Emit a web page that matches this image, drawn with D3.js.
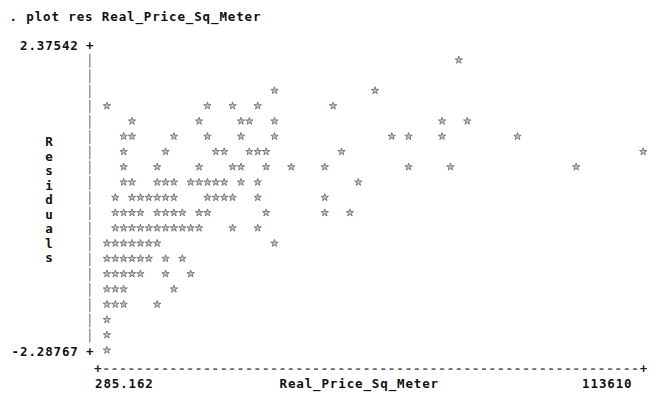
<!DOCTYPE html>
<html>
<head>
<meta charset="utf-8">
<script src="https://cdn.jsdelivr.net/npm/d3@7"></script>
<style>
  html, body { margin: 0; padding: 0; background: #fff; }
  svg { display: block; }
  text {
    font-family: 'DejaVu Sans Mono', monospace;
    font-weight: bold;
    font-size: 12.5px;
    letter-spacing: 0.87px;
    fill: #111;
  }
</style>
</head>
<body>
<svg id="chart" width="659" height="395"></svg>
<script>
// Command echo and axis titles
const command = ". plot res Real_Price_Sq_Meter";
const yTitle = "Residuals";
const xTitle = "Real_Price_Sq_Meter";

// Axis extents and their labels
const yExtent = [-2.28767, 2.37542];
const xExtent = [285.162, 113610];
const yTickLabels = ["2.37542", "-2.28767"];
const xTickLabels = ["285.162", "113610"];

// Real price per square meter (x) and regression residual (y), one entry per observation
const price = [
  74540,
  35810, 56720,
  612, 21390, 26990, 32010, 48250,
  5480, 19910, 28480, 30520, 35560, 71290, 76300,
  3950, 5710, 14320, 21660, 28740, 35600, 60610, 63890, 70980, 87210,
  3700, 12810, 23180, 25190, 30250, 32290, 33810, 49990, 113610,
  3890, 10780, 19640, 26730, 28830, 34050, 39120, 46460, 64170, 72760, 99580,
  3760, 5650, 11020, 12590, 14560, 17880, 19850, 21470, 23410, 24980, 28550, 32240, 53290,
  2140, 5530, 7450, 9060, 10990, 12620, 14380, 21600, 23250, 25140, 26780, 32090, 46250,
  1990, 3870, 5640, 7290, 10850, 12740, 14510, 16160, 19700, 21590, 33990, 46380, 51560,
  2100, 3780, 5560, 7410, 9190, 10870, 12720, 14400, 16280, 17930, 19820, 26900, 32210,
  540, 2010, 3870, 5620, 7330, 9180, 10960, 35750,
  430, 2090, 3800, 5670, 7400, 9110, 12760, 16170,
  690, 2120, 3760, 5540, 7440, 12620, 18050,
  520, 1980, 3900, 14500,
  760, 2030, 3850, 10850,
  380,
  610,
  285.162
];
const residual = [
  2.37542,
  1.902, 1.861,
  1.652, 1.618, 1.671, 1.624, 1.645,
  1.412, 1.377, 1.401, 1.366, 1.418, 1.384, 1.399,
  1.161, 1.132, 1.170, 1.139, 1.155, 1.128, 1.163, 1.141, 1.157, 1.136,
  0.921, 0.887, 0.914, 0.893, 0.908, 0.881, 0.917, 0.896, 0.911,
  0.671, 0.642, 0.668, 0.651, 0.639, 0.676, 0.648, 0.662, 0.645, 0.673, 0.654,
  0.428, 0.397, 0.419, 0.404, 0.431, 0.392, 0.415, 0.426, 0.401, 0.418, 0.395, 0.423, 0.409,
  0.181, 0.152, 0.174, 0.158, 0.183, 0.149, 0.171, 0.162, 0.187, 0.153, 0.169, 0.177, 0.156,
  -0.062, -0.091, -0.071, -0.097, -0.066, -0.084, -0.059, -0.093, -0.074, -0.088, -0.065, -0.081, -0.095,
  -0.311, -0.338, -0.317, -0.342, -0.309, -0.329, -0.336, -0.314, -0.327, -0.306, -0.341, -0.319, -0.333,
  -0.552, -0.581, -0.561, -0.588, -0.557, -0.574, -0.583, -0.563,
  -0.802, -0.829, -0.808, -0.821, -0.799, -0.833, -0.811, -0.824,
  -1.047, -1.072, -1.052, -1.079, -1.058, -1.066, -1.049,
  -1.292, -1.318, -1.301, -1.314,
  -1.539, -1.562, -1.547, -1.558,
  -1.781,
  -2.051,
  -2.28767
];

const svg = d3.select("#chart");
const CHAR_W = 8.4;

// Character-cell plot: values snap to a 65-column by 20-row grid
const colScale = d3.scaleLinear().domain(xExtent).range([0, 64]);
const rowScale = d3.scaleLinear().domain(yExtent).range([20, 1]);
const colX = d3.scaleLinear().domain([0, 64]).range([106.9, 643.2]);
const rowY = d3.scaleLinear().domain([0, 20]).range([44.8, 350.2]);
const baseline = r => rowY(r) + 5.5;

// Command line
svg.append("text").attr("x", 9.5).attr("y", 21).text(command);

// Y axis: "+" at the extremes, "|" on every row between
const axisX = 89.8;
svg.append("g").selectAll("line")
  .data(d3.range(1, 20))
  .join("line")
  .attr("x1", axisX).attr("x2", axisX)
  .attr("y1", r => rowY(r) - 6.2)
  .attr("y2", r => rowY(r) + 7.6)
  .attr("stroke", "#8d8f96")
  .attr("stroke-width", 1.4);

[yExtent[1], yExtent[0]].forEach((v, i) => {
  const r = Math.round(rowScale(v)) === 1 && i === 0 ? 0 : 20;
  const label = yTickLabels[i];
  svg.append("text")
    .attr("x", 78.8 - label.length * CHAR_W)
    .attr("y", baseline(r))
    .text(label);
  svg.append("text")
    .attr("x", axisX)
    .attr("y", baseline(r))
    .attr("text-anchor", "middle")
    .style("letter-spacing", "0px")
    .text("+");
});

// Vertical axis title, one letter per line
svg.append("g").selectAll("text")
  .data(yTitle.split(""))
  .join("text")
  .attr("x", 49)
  .attr("y", (d, i) => 146 + i * 14.55)
  .attr("text-anchor", "middle")
  .style("letter-spacing", "0px")
  .text(d => d);

// X axis rule
const rule = svg.append("text").attr("x", 94).attr("y", 373);
rule.append("tspan").style("fill", "#2a2230").text("+");
rule.append("tspan").style("fill", "#6b6b6b").text("-".repeat(64));
rule.append("tspan").style("fill", "#2a2230").text("+");

// X axis labels
svg.append("text").attr("x", 95).attr("y", 387.5).text(xTickLabels[0]);
svg.append("text").attr("x", 279.5).attr("y", 387.5).text(xTitle);
svg.append("text").attr("x", 632.5 - xTickLabels[1].length * CHAR_W).attr("y", 387.5).text(xTickLabels[1]);

// Observations as star marks in their grid cells
const star = d3.symbol().type(d3.symbolStar).size(17);
svg.append("g").selectAll("path")
  .data(d3.range(price.length))
  .join("path")
  .attr("d", star)
  .attr("transform", i => `translate(${colX(Math.round(colScale(price[i])))},${rowY(Math.round(rowScale(residual[i])))})`)
  .attr("fill", "#c6c4c4")
  .attr("stroke", "#676d7c")
  .attr("stroke-width", 0.85);
</script>
</body>
</html>
